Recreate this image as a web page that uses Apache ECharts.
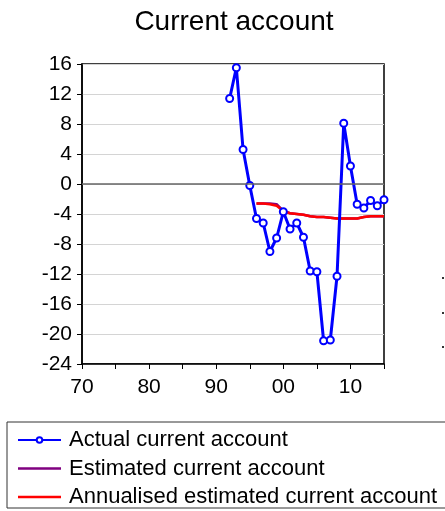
<!DOCTYPE html>
<html>
<head>
<meta charset="utf-8">
<script src="https://cdn.jsdelivr.net/npm/echarts@6/dist/echarts.min.js"></script>
<style>html,body{margin:0;padding:0;background:#fff;}#c{width:445px;height:511px;}</style>
</head>
<body>
<div id="c"></div>
<script>
// Data
var actualYears = [1992,1993,1994,1995,1996,1997,1998,1999,2000,2001,2002,2003,2004,2005,2006,2007,2008,2009,2010,2011,2012,2013,2014,2015];
var actualValues = [11.4,15.5,4.6,-0.2,-4.6,-5.2,-9.0,-7.2,-3.7,-6.0,-5.2,-7.1,-11.6,-11.7,-20.9,-20.8,-12.3,8.1,2.4,-2.7,-3.2,-2.2,-2.9,-2.1];
var estYears = [1996,1997,1998,1999,2000,2001,2002,2003,2004,2005,2006,2007,2008,2009,2010,2011,2012,2013,2014,2015];
var estimatedValues = [-2.6,-2.6,-2.6,-2.7,-3.6,-3.9,-4.0,-4.1,-4.3,-4.4,-4.4,-4.5,-4.6,-4.6,-4.6,-4.6,-4.4,-4.3,-4.3,-4.3];
var annualisedValues = [-2.6,-2.6,-2.7,-2.9,-3.6,-3.9,-4.0,-4.1,-4.3,-4.4,-4.4,-4.5,-4.6,-4.6,-4.6,-4.6,-4.4,-4.3,-4.3,-4.3];
var xTickLabels = {1970:'70',1980:'80',1990:'90',2000:'00',2010:'10'};
var seriesNames = ['Actual current account','Estimated current account','Annualised estimated current account'];

function pairs(xs, ys){ return xs.map(function(x,i){ return [x, ys[i]]; }); }

var chart = echarts.init(document.getElementById('c'), null, {renderer:'canvas'});
var font = 'Liberation Sans, Arial, sans-serif';
var lineIcon = 'path://M0,0h0.01v0.01h-0.01z M0,2.3h43v2.4h-43z M43,7h-0.01v-0.01h0.01z';
chart.setOption({
  animation:false,
  backgroundColor:'#fff',
  title:{
    text:'Current account', left:229, top:3, textAlign:'center',
    textStyle:{fontFamily:font, fontSize:28, fontWeight:'normal', color:'#000'}
  },
  grid:{left:82, right:61, top:64, bottom:147, show:true, borderColor:'#000', borderWidth:1.5, backgroundColor:'transparent'},
  legend:{
    orient:'vertical', left:7, top:422, height:120,
    data:[
      {name:seriesNames[0]},
      {name:seriesNames[1], icon:lineIcon},
      {name:seriesNames[2], icon:lineIcon}
    ],
    itemWidth:43, itemHeight:7, itemGap:6.5,
    padding:[7,20,0,10],
    borderColor:'#333', borderWidth:1,
    textStyle:{fontFamily:font, fontSize:22, color:'#000', lineHeight:21, padding:[0,0,0,3]}
  },
  xAxis:{
    type:'value', min:1970, max:2015, interval:5,
    axisLine:{show:true, onZero:false, lineStyle:{color:'#000', width:1.5}},
    axisTick:{show:true, length:5, inside:false, lineStyle:{color:'#000'}},
    axisLabel:{fontFamily:font, fontSize:21, color:'#000', margin:13,
      formatter:function(v){ return xTickLabels[v] || ''; }, showMaxLabel:true, showMinLabel:true},
    splitLine:{show:false}
  },
  yAxis:{
    type:'value', min:-24, max:16, interval:4,
    axisLine:{show:true, onZero:false, lineStyle:{color:'#000', width:1.5}},
    axisTick:{show:true, length:5, inside:false, lineStyle:{color:'#000'}},
    axisLabel:{fontFamily:font, fontSize:21, color:'#000', margin:10},
    splitLine:{show:true, lineStyle:{color:'#d4d4d4', width:1}}
  },
  series:[
    {
      name:seriesNames[1], type:'line', data:pairs(estYears, estimatedValues),
      showSymbol:false, symbol:'none', lineStyle:{color:'#800080', width:2.5}, itemStyle:{color:'#800080'}, z:2,
      markLine:{silent:true, symbol:'none', label:{show:false}, lineStyle:{color:'#666', width:1.5, type:'solid'}, data:[{yAxis:0}]}
    },
    {
      name:seriesNames[2], type:'line', data:pairs(estYears, annualisedValues),
      showSymbol:false, symbol:'none', lineStyle:{color:'#ff0000', width:2.5}, itemStyle:{color:'#ff0000'}, z:3
    },
    {
      name:seriesNames[0], type:'line', data:pairs(actualYears, actualValues),
      symbol:'circle', symbolSize:7, showAllSymbol:true,
      lineStyle:{color:'#0000ff', width:3}, itemStyle:{color:'#fff', borderColor:'#0000ff', borderWidth:2}, z:4
    }
  ],
  graphic:[
    {type:'rect', shape:{x:442, y:277, width:2, height:2}, style:{fill:'#333'}},
    {type:'rect', shape:{x:442, y:312, width:2, height:2}, style:{fill:'#333'}},
    {type:'rect', shape:{x:442, y:346, width:2, height:2}, style:{fill:'#333'}}
  ]
});
</script>
</body>
</html>
